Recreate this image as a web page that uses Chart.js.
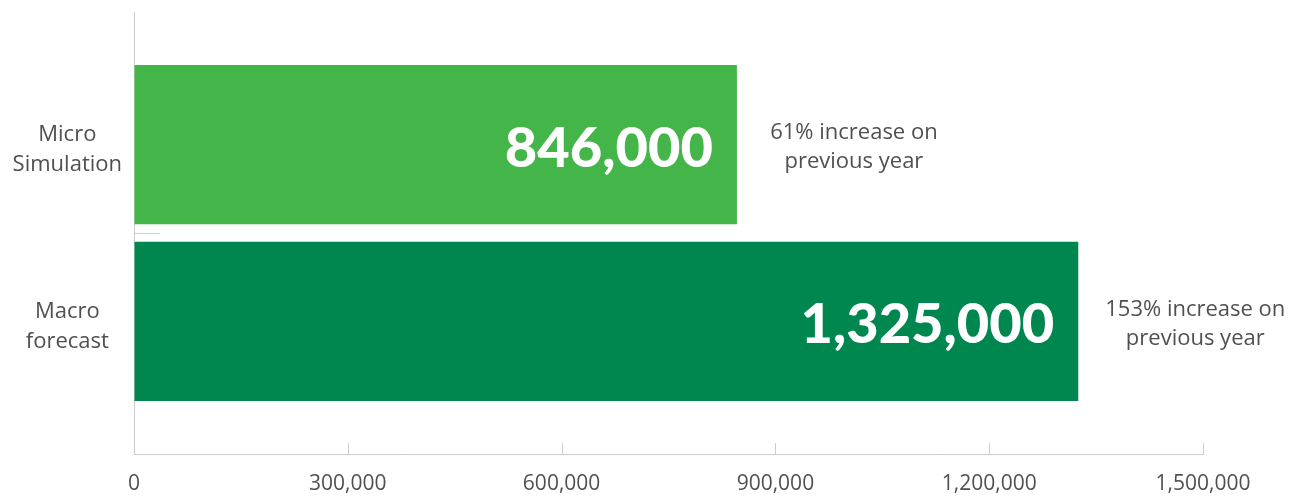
<!DOCTYPE html>
<html>
<head>
<meta charset="utf-8">
<script src="https://cdn.jsdelivr.net/npm/chart.js@4"></script>
<style>
  html, body { margin: 0; padding: 0; background: #fff; }
  #wrap { width: 1298px; height: 496px; }
</style>
</head>
<body>
<div id="wrap"><canvas id="chart"></canvas></div>
<script>
// Chart data
const categories = [['Micro', 'Simulation'], ['Macro', 'forecast']];
const values = [846000, 1325000];
const valueLabels = ['846,000', '1,325,000'];
const notes = [['61% increase on', 'previous year'], ['153% increase on', 'previous year']];
const barColors = ['#44b649', '#00864f'];
const xTicks = [0, 300000, 600000, 900000, 1200000, 1500000];

const textColor = '#505050';
const lineColor = '#cccccc';

// Labels inside bars, notes beside bars, inward tick marks
const annotate = {
    id: 'annotate',
    afterDatasetsDraw(chart) {
        const ctx = chart.ctx;
        const meta = chart.getDatasetMeta(0);
        const xs = chart.scales.x;
        const ys = chart.scales.y;
        ctx.save();

        // inward ticks on x axis
        ctx.strokeStyle = lineColor;
        ctx.lineWidth = 1;
        xTicks.forEach(v => {
            const px = Math.round(xs.getPixelForValue(v)) + 0.5;
            ctx.beginPath();
            ctx.moveTo(px, xs.top);
            ctx.lineTo(px, xs.top - 11);
            ctx.stroke();
        });
        // separator tick between categories
        const py = Math.round(ys.getPixelForValue(0.5)) + 0.5;
        ctx.beginPath();
        ctx.moveTo(ys.right, py);
        ctx.lineTo(ys.right + 26, py);
        ctx.stroke();

        meta.data.forEach((bar, i) => {
            // big value label
            ctx.fillStyle = '#ffffff';
            ctx.font = '900 56px Lato, "Open Sans", sans-serif';
            ctx.textAlign = 'right';
            ctx.textBaseline = 'middle';
            ctx.fillText(valueLabels[i], bar.x - 24, bar.y + 4);

            // note to the right
            ctx.fillStyle = textColor;
            ctx.font = '22px "Open Sans", sans-serif';
            ctx.textAlign = 'center';
            const cx = bar.x + 117;
            notes[i].forEach((line, j) => {
                ctx.fillText(line, cx, bar.y - 12 + j * 29);
            });
        });
        ctx.restore();
    }
};

new Chart(document.getElementById('chart'), {
    type: 'bar',
    data: {
        datasets: [{
            data: values.map((v, i) => ({ x: v, y: i })),
            backgroundColor: barColors,
            borderWidth: 0,
            categoryPercentage: 1,
            barPercentage: 0.9
        }]
    },
    options: {
        indexAxis: 'y',
        responsive: true,
        maintainAspectRatio: false,
        animation: false,
        layout: { padding: { top: 12, right: 95, left: 0, bottom: 0 } },
        plugins: {
            legend: { display: false },
            tooltip: { enabled: false }
        },
        events: [],
        scales: {
            x: {
                type: 'linear',
                min: 0,
                max: 1500000,
                afterBuildTicks: s => { s.ticks = xTicks.map(v => ({ value: v })); },
                afterFit: s => { s.height = 42; },
                grid: { drawOnChartArea: false, drawTicks: false },
                border: { color: lineColor },
                ticks: {
                    padding: 17,
                    color: textColor,
                    font: { family: 'Open Sans', size: 21 },
                    callback: v => v.toLocaleString('en-US')
                }
            },
            y: {
                type: 'linear',
                reverse: true,
                offset: false,
                min: -0.75,
                max: 1.75,
                afterBuildTicks: s => { s.ticks = categories.map((c, i) => ({ value: i })); },
                afterFit: s => { s.width = 134; s.paddingTop = 0; s.paddingBottom = 0; },
                grid: { display: false, drawTicks: false, offset: false },
                border: { color: lineColor },
                ticks: {
                    crossAlign: 'center',
                    padding: 12,
                    labelOffset: 5,
                    color: textColor,
                    font: { family: 'Open Sans', size: 22, lineHeight: 1.35 },
                    callback: (v, i) => categories[i]
                }
            }
        }
    },
    plugins: [annotate]
});
</script>
</body>
</html>
